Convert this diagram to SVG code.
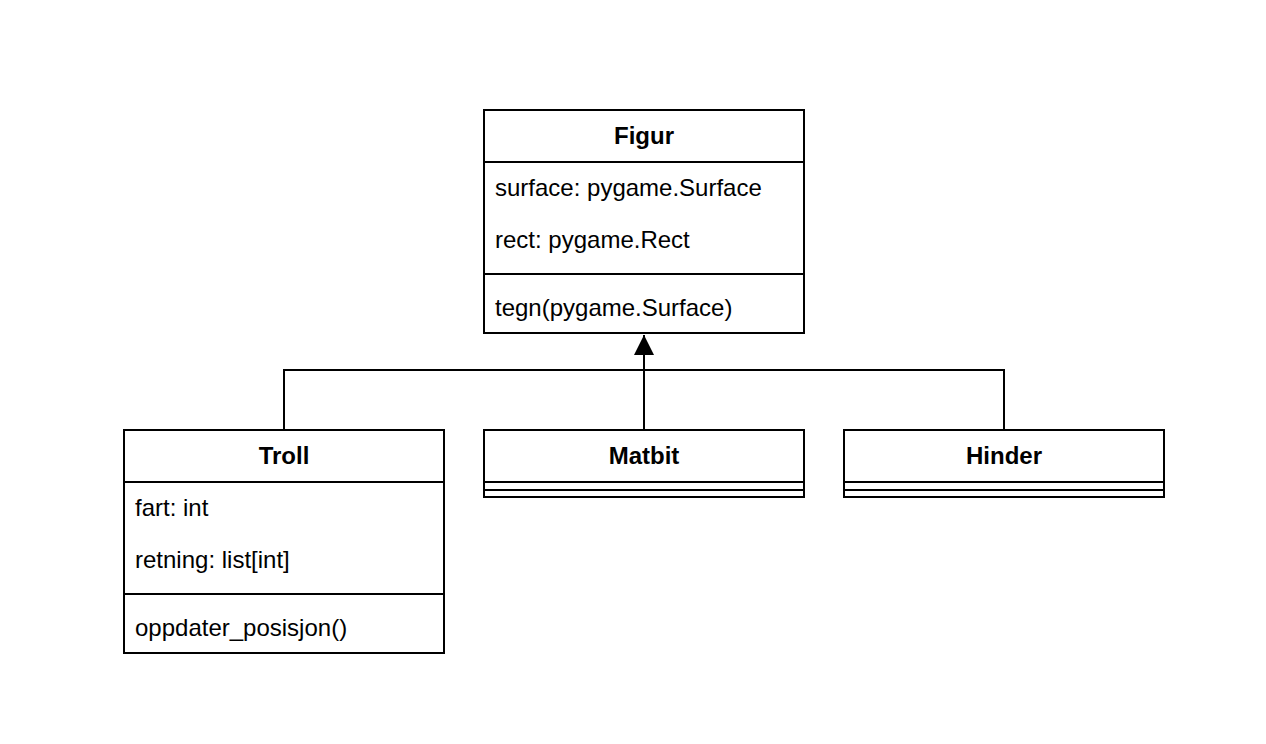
<svg xmlns="http://www.w3.org/2000/svg" width="1266" height="744" viewBox="0 0 1266 744">
<defs>
<style>
.box{fill:#ffffff;stroke:#000000;stroke-width:2}
.ln{stroke:#000000;stroke-width:2;fill:none}
.t{font-family:"Liberation Sans",Arial,Helvetica,sans-serif;font-size:24px;fill:#000000}
.h{font-family:"Liberation Sans",Arial,Helvetica,sans-serif;font-size:24px;font-weight:bold;fill:#000000;text-anchor:middle}
</style>
<marker id="arr" markerUnits="userSpaceOnUse" markerWidth="20" markerHeight="20" refX="16" refY="8" orient="auto" viewBox="0 0 16 16">
<path d="M0,0 L16,8 L0,16 Z" fill="#000000"/>
</marker>
</defs>
<rect width="1266" height="744" fill="#ffffff"/>
<g id="connectors">
<path class="ln" d="M284,430 L284,370 L1004,370 L1004,430"/>
<path class="ln" d="M644,430 L644,335" marker-end="url(#arr)"/>
</g>
<g id="figur">
<rect class="box" x="484" y="110" width="320" height="223"/>
<line class="ln" x1="484" y1="162" x2="804" y2="162"/>
<line class="ln" x1="484" y1="274" x2="804" y2="274"/>
<text class="h" x="644" y="144">Figur</text>
<text class="t" x="495" y="196">surface: pygame.Surface</text>
<text class="t" x="495" y="248">rect: pygame.Rect</text>
<text class="t" x="495" y="316">tegn(pygame.Surface)</text>
</g>
<g id="troll">
<rect class="box" x="124" y="430" width="320" height="223"/>
<line class="ln" x1="124" y1="482" x2="444" y2="482"/>
<line class="ln" x1="124" y1="594" x2="444" y2="594"/>
<text class="h" x="284" y="464">Troll</text>
<text class="t" x="135" y="516">fart: int</text>
<text class="t" x="135" y="568">retning: list[int]</text>
<text class="t" x="135" y="636">oppdater_posisjon()</text>
</g>
<g id="matbit">
<rect class="box" x="484" y="430" width="320" height="67"/>
<line class="ln" x1="484" y1="482" x2="804" y2="482"/>
<line class="ln" x1="484" y1="490" x2="804" y2="490"/>
<text class="h" x="644" y="464">Matbit</text>
</g>
<g id="hinder">
<rect class="box" x="844" y="430" width="320" height="67"/>
<line class="ln" x1="844" y1="482" x2="1164" y2="482"/>
<line class="ln" x1="844" y1="490" x2="1164" y2="490"/>
<text class="h" x="1004" y="464">Hinder</text>
</g>
</svg>
